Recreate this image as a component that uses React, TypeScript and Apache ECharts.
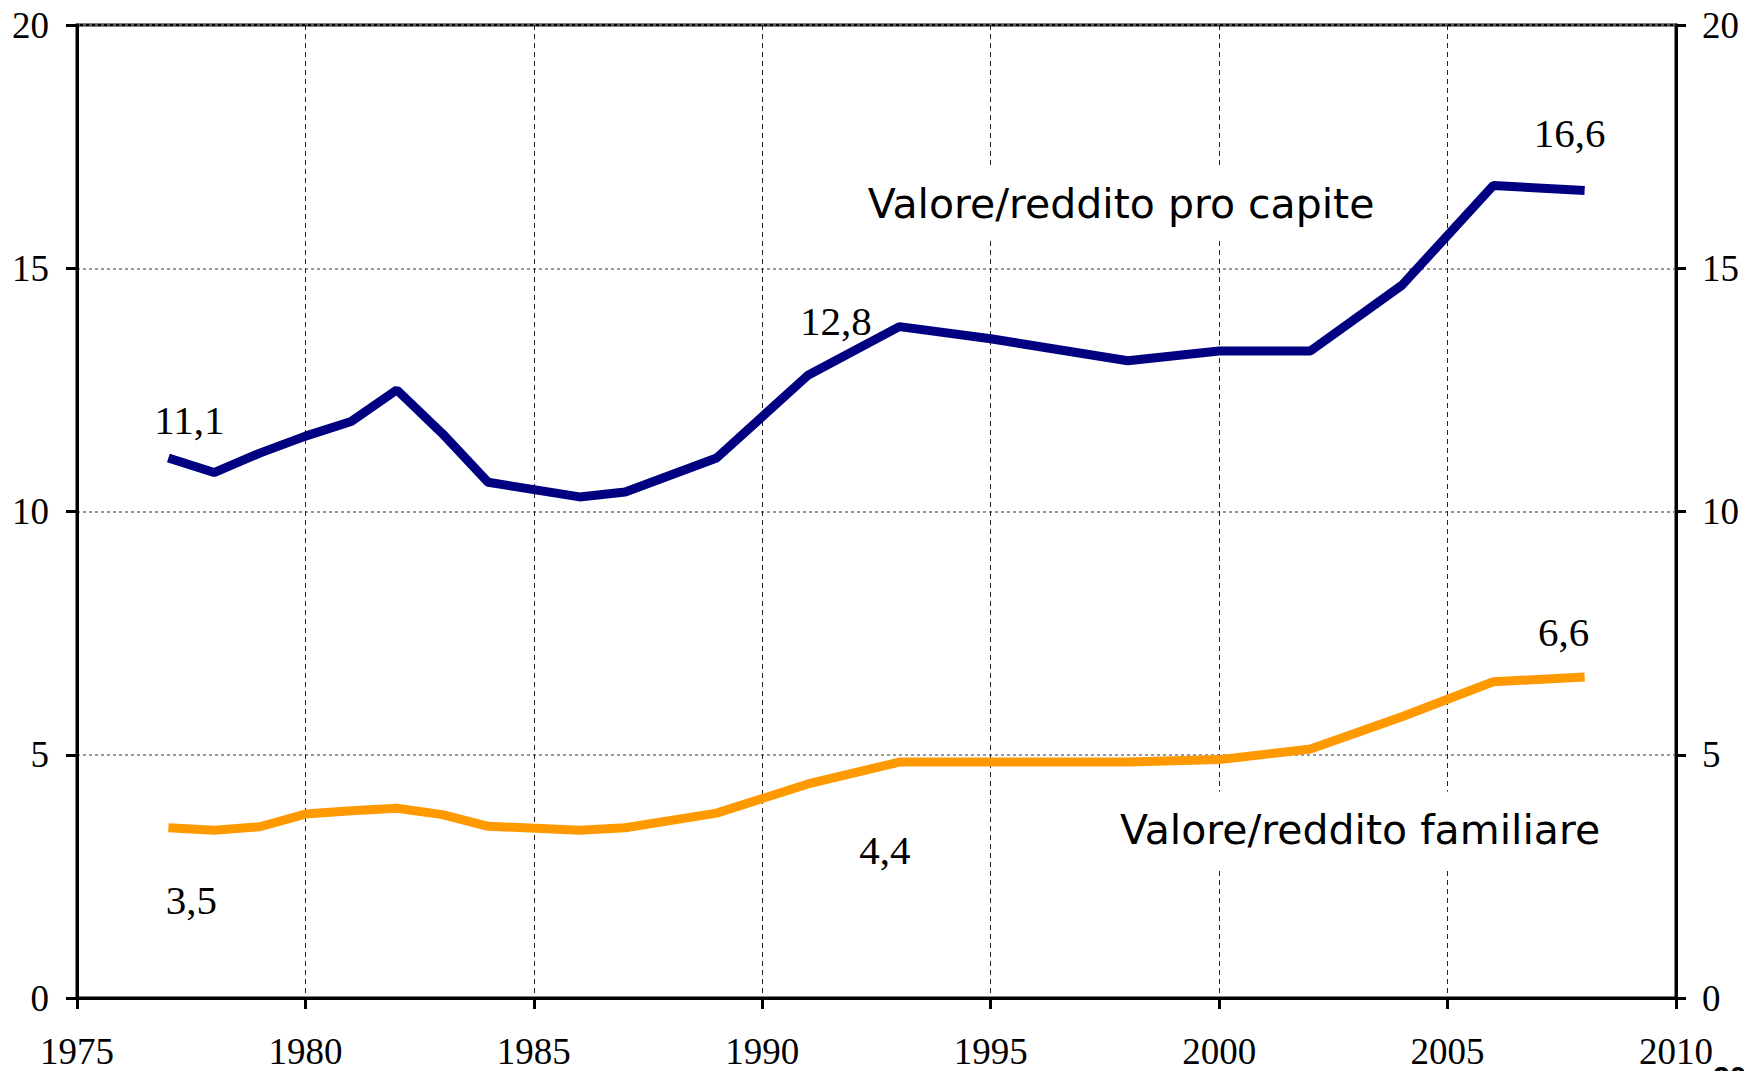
import React, { useEffect, useRef } from "react";
import * as echarts from "echarts";

const blueYears = [1977, 1978, 1979, 1980, 1981, 1982, 1983, 1984, 1986, 1987, 1989, 1991, 1993, 1995, 1998, 2000, 2002, 2004, 2006, 2008];
const blueValues = [11.1, 10.8, 11.2, 11.55, 11.85, 12.5, 11.6, 10.6, 10.3, 10.4, 11.1, 12.8, 13.8, 13.55, 13.1, 13.3, 13.3, 14.65, 16.7, 16.6];
const orangeYears = [1977, 1978, 1979, 1980, 1981, 1982, 1983, 1984, 1986, 1987, 1989, 1991, 1993, 1995, 1998, 2000, 2002, 2004, 2006, 2008];
const orangeValues = [3.5, 3.45, 3.52, 3.78, 3.85, 3.9, 3.77, 3.53, 3.45, 3.5, 3.8, 4.4, 4.85, 4.85, 4.85, 4.9, 5.12, 5.78, 6.5, 6.6];

const blueLabelled: Record<number, number[]> = { 1977: [21, -38], 1991: [28, -54], 2008: [-15, -57] };
const orangeLabelled: Record<number, number[]> = { 1977: [23, 72], 1991: [77, 66], 2008: [-21, -45] };

const seriesNames = ["Valore/reddito pro capite", "Valore/reddito familiare"];

const xMin = 1975;
const xMax = 2010;
const yMin = 0;
const yMax = 20;

const serif = "'Liberation Serif', 'Times New Roman', serif";

function buildData(years: number[], values: number[], labelled: Record<number, number[]>) {
  return years.map((y, i) => {
    const off = labelled[y];
    if (!off) return { value: [y, values[i]] };
    return {
      value: [y, values[i]],
      label: {
        show: true,
        position: off,
        align: "center",
        verticalAlign: "middle",
        fontFamily: serif,
        fontSize: 41,
        color: "#000",
        formatter: (p: any) => String(p.value[1]).replace(".", ","),
      },
    };
  });
}

export default function App() {
  const ref = useRef<HTMLDivElement>(null);
  useEffect(() => {
    if (!ref.current) return;
    const chart = echarts.init(ref.current, undefined, { renderer: "svg" });
    const axisLabelStyle = { fontFamily: serif, fontSize: 37, color: "#000" };
    chart.setOption({
      animation: false,
      backgroundColor: "#fff",
      grid: {
        left: 77,
        right: 68,
        top: 25,
        bottom: 73,
        show: true,
        borderColor: "#000",
        borderWidth: 3,
      },
      xAxis: {
        type: "value",
        min: xMin,
        max: xMax,
        interval: 5,
        axisLine: { show: true, lineStyle: { color: "#000", width: 3 } },
        axisTick: { show: true, length: 11, lineStyle: { color: "#000", width: 3 } },
        axisLabel: { ...axisLabelStyle, margin: 35, formatter: (v: number) => String(v) },
        splitLine: { show: true, lineStyle: { color: "#222", width: 1, type: [5, 4] } },
      },
      yAxis: [
        {
          type: "value",
          min: yMin,
          max: yMax,
          interval: 5,
          position: "left",
          axisLine: { show: true, lineStyle: { color: "#000", width: 3 } },
          axisTick: { show: true, length: 11, lineStyle: { color: "#000", width: 3 } },
          axisLabel: { ...axisLabelStyle, margin: 28 },
          splitLine: { show: true, lineStyle: { color: "#777", width: 1.5, type: [3, 3] } },
        },
        {
          type: "value",
          min: yMin,
          max: yMax,
          interval: 5,
          position: "right",
          axisLine: { show: true, lineStyle: { color: "#000", width: 3 } },
          axisTick: { show: true, length: 10, lineStyle: { color: "#000", width: 3 } },
          axisLabel: { ...axisLabelStyle, margin: 26 },
          splitLine: { show: false },
        },
      ],
      series: [
        {
          name: seriesNames[0],
          type: "line",
          data: buildData(blueYears, blueValues, blueLabelled),
          symbol: "circle",
          symbolSize: 0.1,
          showSymbol: true,
          showAllSymbol: true,
          itemStyle: { color: "#000080" },
          lineStyle: { color: "#000080", width: 9, cap: "butt", join: "bevel" },
          z: 5,
        },
        {
          name: seriesNames[1],
          type: "line",
          data: buildData(orangeYears, orangeValues, orangeLabelled),
          symbol: "circle",
          symbolSize: 0.1,
          showSymbol: true,
          showAllSymbol: true,
          itemStyle: { color: "#FF9900" },
          lineStyle: { color: "#FF9900", width: 9, cap: "butt", join: "bevel" },
          z: 5,
        },
      ],
      graphic: [
        {
          type: "text",
          x: 1121,
          y: 204,
          z: 3,
          style: {
            text: seriesNames[0],
            font: "41px 'DejaVu Sans', Verdana, sans-serif",
            fill: "#000",
            align: "center",
            verticalAlign: "middle",
            backgroundColor: "#fff",
            padding: [12, 8, 18, 8],
          },
        },
        {
          type: "text",
          x: 1360,
          y: 830,
          z: 3,
          style: {
            text: seriesNames[1],
            font: "41px 'DejaVu Sans', Verdana, sans-serif",
            fill: "#000",
            align: "center",
            verticalAlign: "middle",
            backgroundColor: "#fff",
            padding: [12, 8, 24, 8],
          },
        },
        {
          type: "text",
          x: 1713,
          y: 1061,
          style: {
            text: "20",
            font: "bold 30px 'Liberation Sans', Arial, sans-serif",
            fill: "#000",
            align: "left",
            verticalAlign: "top",
          },
        },
      ],
    });
    return () => chart.dispose();
  }, []);
  return (
    <div
      ref={ref}
      style={{ position: "fixed", left: 0, top: 0, width: 1744, height: 1071 }}
    />
  );
}
